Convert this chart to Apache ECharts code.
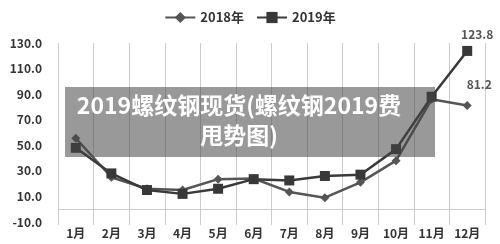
<!DOCTYPE html>
<html>
<head>
    <meta charset="utf-8">
    <title>ECharts</title>
    <script src="https://cdn.jsdelivr.net/npm/echarts@6/dist/echarts.min.js"></script>
</head>
<body style="margin:0">
<div id="main" style="width: 500px;height:244px;"></div>
<script type="text/javascript">
    var myChart = echarts.init(document.getElementById('main'));

    // 数据
    var months = ['1月', '2月', '3月', '4月', '5月', '6月', '7月', '8月', '9月', '10月', '11月', '12月'];
    var data2018 = [55.5, 25, 16, 15, 23.5, 24, 13.5, 9, 21, 38, 86, 81.2];
    var data2019 = [48, 28, 15, 12, 16, 23.5, 22.5, 26, 27, 47, 88, 123.8];
    var yTicks = [-10, 10, 30, 50, 70, 90, 110, 130];
    var titleText = '2019螺纹钢现货(螺纹钢2019费\n甩势图)';

    var font = '"Noto Sans CJK SC", "Noto Sans", sans-serif';

    option = {
        // 标题遮罩
        graphic: [{
            type: 'rect',
            left: 65,
            top: 87,
            z: 100,
            shape: { width: 370, height: 70 },
            style: { fill: 'rgba(70,70,70,0.55)' }
        }, {
            type: 'text',
            x: 239,
            y: 90,
            z: 101,
            style: {
                text: titleText,
                fill: '#fff',
                font: 'bold 23px ' + font,
                lineHeight: 30,
                align: 'center',
                verticalAlign: 'top'
            }
        }],
        legend: {
            top: 6,
            left: 'center',
            itemWidth: 30,
            itemGap: 12,
            textStyle: {
                color: '#333',
                fontSize: 13,
                fontWeight: 'bold',
                fontFamily: font
            },
            data: ['2018年', '2019年']
        },
        grid: {
            left: 58,
            right: 15,
            top: 43,
            bottom: 22
        },
        xAxis: {
            type: 'category',
            data: months,
            boundaryGap: true,
            axisLine: { show: false, onZero: false },
            axisTick: { show: true, length: 3, lineStyle: { color: '#ccc' } },
            splitLine: { show: true, lineStyle: { color: '#ccc', width: 1 } },
            axisLabel: {
                color: '#333',
                fontSize: 12,
                fontWeight: 'bold',
                fontFamily: font,
                margin: 5
            }
        },
        yAxis: {
            type: 'value',
            min: -10,
            max: 130,
            axisLine: { show: false },
            axisTick: { show: false },
            splitLine: { show: false },
            axisLabel: {
                customValues: yTicks,
                margin: 16,
                color: '#333',
                fontSize: 12,
                fontWeight: 'bold',
                fontFamily: font,
                formatter: function (v) { return v.toFixed(1); }
            }
        },
        series: [{
            name: '2018年',
            type: 'line',
            data: data2018,
            symbol: 'diamond',
            symbolSize: 9,
            itemStyle: { color: '#555' },
            lineStyle: { color: '#555', width: 2.5 },
            label: {
                show: true,
                formatter: function (p) { return p.dataIndex === 11 ? p.value : ''; },
                position: 'top',
                offset: [12, -5],
                color: '#555',
                fontSize: 12,
                fontWeight: 'bold',
                fontFamily: font
            },
            markLine: {
                silent: true,
                symbol: 'none',
                label: { show: false },
                lineStyle: { color: '#ccc', type: 'solid', width: 1 },
                data: [{ yAxis: 0 }]
            },
            z: 3
        }, {
            name: '2019年',
            type: 'line',
            data: data2019,
            symbol: 'rect',
            symbolSize: 10,
            itemStyle: { color: '#383838' },
            lineStyle: { color: '#3a3a3a', width: 2.5 },
            label: {
                show: true,
                formatter: function (p) { return p.dataIndex === 11 ? p.value : ''; },
                position: 'top',
                offset: [10, 0],
                color: '#555',
                fontSize: 12,
                fontWeight: 'bold',
                fontFamily: font
            },
            z: 4
        }]
    };

    myChart.setOption(option);
</script>
</body>
</html>
